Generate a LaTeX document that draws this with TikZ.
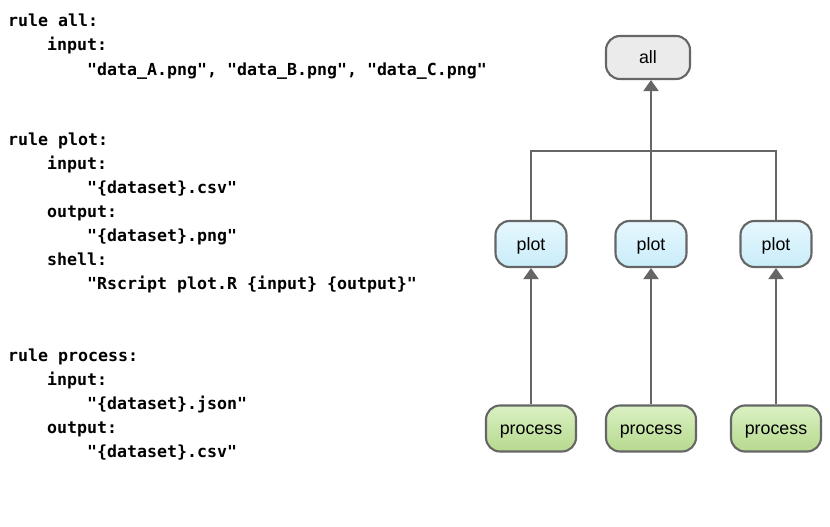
\documentclass[tikz,border=0pt]{standalone}
\usepackage{fontspec}
\setmainfont{Liberation Sans}
\newfontfamily\codefont{DejaVu Sans Mono}
\usetikzlibrary{arrows.meta}
\definecolor{edgegray}{HTML}{666666}
\definecolor{allfill}{HTML}{EBEBEB}
\definecolor{plottop}{HTML}{E6F7FD}
\definecolor{plotbot}{HTML}{C9EDFB}
\definecolor{proctop}{HTML}{DAF1C3}
\definecolor{procbot}{HTML}{B6D98E}
\begin{document}
\begin{tikzpicture}[x=1pt,y=-1pt,
  code/.style={anchor=base west,inner sep=0pt,font=\codefont\bfseries\fontsize{16.6}{19}\selectfont},
  job/.style={draw=edgegray,line width=2.1pt,rounded corners=14pt,inner sep=0pt,
    text height=16pt,text depth=4pt,font=\fontsize{17.8}{20}\selectfont},
  allnode/.style={job,fill=allfill,minimum width=84pt,minimum height=43pt},
  plotnode/.style={job,top color=plottop,bottom color=plotbot,minimum width=71pt,minimum height=46pt},
  procnode/.style={job,top color=proctop,bottom color=procbot,minimum width=90pt,minimum height=46pt},
  conn/.style={draw=edgegray,line width=2.1pt},
  arr/.style={conn,-{Triangle[width=15pt,length=11pt]}}]
\useasboundingbox[fill=white] (0,0) rectangle (830,527);
% code text
\node[code] (t1) at (8,27) {rule all:};
\node[code] (t2) at (47,51) {input:};
\node[code] (t3) at (87,75) {"data\_A.png", "data\_B.png", "data\_C.png"};
\node[code] (t4) at (8,145) {rule plot:};
\node[code] (t5) at (47,169) {input:};
\node[code] (t6) at (87,193) {"\{dataset\}.csv"};
\node[code] (t7) at (47,217) {output:};
\node[code] (t8) at (87,241) {"\{dataset\}.png"};
\node[code] (t9) at (47,265) {shell:};
\node[code] (t10) at (87,289) {"Rscript plot.R \{input\} \{output\}"};
\node[code] (t11) at (8,361) {rule process:};
\node[code] (t12) at (47,385) {input:};
\node[code] (t13) at (87,409) {"\{dataset\}.json"};
\node[code] (t14) at (47,433) {output:};
\node[code] (t15) at (87,457) {"\{dataset\}.csv"};
% graph
\node[allnode] (all) at (648,57.5) {all};
\node[plotnode] (p1) at (531,244) {plot};
\node[plotnode] (p2) at (651,244) {plot};
\node[plotnode] (p3) at (776,244) {plot};
\node[procnode] (r1) at (531,428.5) {process};
\node[procnode] (r2) at (651,428.5) {process};
\node[procnode] (r3) at (776,428.5) {process};
\coordinate (j1) at (p1.north |- 0,151);
\coordinate (j3) at (p3.north |- 0,151);
\draw[conn] (p1.north) -- (j1) -- (j3) -- (p3.north);
\draw[arr] (p2.north) -- (p2.north |- all.south);
\draw[arr] (r1) -- (p1);
\draw[arr] (r2) -- (p2);
\draw[arr] (r3) -- (p3);
\end{tikzpicture}
\end{document}
